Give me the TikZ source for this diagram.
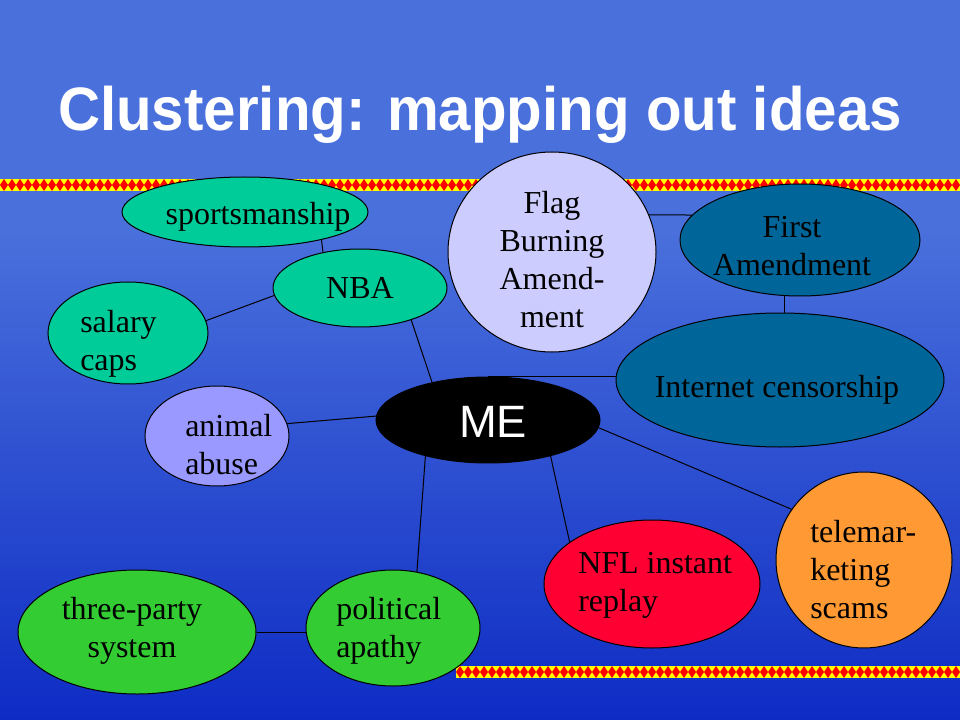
\documentclass[tikz,border=0pt]{standalone}
\usepackage{fontspec}
\setmainfont{Liberation Serif}
\newfontfamily\titlefont{Liberation Sans}[FakeStretch=0.95]
\newfontfamily\mefont{Liberation Sans}
\usetikzlibrary{shapes.geometric}
\definecolor{bgtop}{RGB}{74,112,220}
\definecolor{bgbot}{RGB}{14,44,196}
\definecolor{seagr}{RGB}{0,204,153}
\definecolor{lilac}{RGB}{204,204,255}
\definecolor{violet}{RGB}{153,153,255}
\definecolor{tealb}{RGB}{0,102,153}
\definecolor{orng}{RGB}{255,153,51}
\definecolor{redb}{RGB}{255,0,51}
\definecolor{grn}{RGB}{51,204,51}
\definecolor{bandred}{RGB}{255,0,0}
\definecolor{bandyel}{RGB}{255,255,0}
\begin{document}
\begin{tikzpicture}[x=0.75pt,y=-0.75pt,
  bub/.style={ellipse,draw=black,line width=0.75pt,inner sep=0pt},
  lbl/.style={font=\fontsize{24}{28.5}\selectfont,inner sep=0pt,text=black},
  link/.style={draw=black,line width=0.75pt}]
\useasboundingbox (0,0) rectangle (960,720);
% background
\fill[bgtop] (0,0) rectangle (960,231);
\shade[top color=bgtop,bottom color=bgbot] (0,230) rectangle (960,720);
% decorative bands
\fill[bandyel] (0,179) rectangle (960,191);
\foreach \i in {0,...,120}
  \fill[bandred] ({\i*8},185) -- ++(4,-6) -- ++(4,6) -- ++(-4,6) -- cycle;
\fill[bandyel] (456,666) rectangle (960,678);
\begin{scope}
\clip (456,666) rectangle (960,678);
\foreach \i in {0,...,63}
  \fill[bandred] ({456+\i*8},672) -- ++(4,-6) -- ++(4,6) -- ++(-4,6) -- cycle;
\end{scope}
% title
\node[font=\titlefont\bfseries\fontsize{46}{52}\selectfont,text=white,anchor=base,inner sep=0pt] (title) at (480,131) {Clustering: mapping out ideas};
% bubbles
\node[bub,fill=seagr,minimum width=184.5pt,minimum height=52.5pt] (sports) at (245,212) {};
\node[bub,fill=seagr,minimum width=130.5pt,minimum height=58.5pt] (nba) at (360,288) {};
\node[bub,fill=seagr,minimum width=120pt,minimum height=76.5pt] (salary) at (128,333) {};
\node[bub,fill=violet,minimum width=108pt,minimum height=75pt] (animal) at (217,436) {};
\node[bub,fill=black,minimum width=168pt,minimum height=64.5pt] (me) at (488,420) {};
\node[bub,fill=lilac,minimum width=156pt,minimum height=150pt] (flag) at (552,252) {};
\node[bub,fill=tealb,minimum width=180pt,minimum height=84pt] (first) at (800,240) {};
\node[bub,fill=tealb,minimum width=246pt,minimum height=100.5pt] (inet) at (780,380) {};
\node[bub,fill=orng,minimum width=132pt,minimum height=132pt] (tele) at (864,560) {};
\node[bub,fill=redb,minimum width=162pt,minimum height=96pt] (nfl) at (652,584) {};
\node[bub,fill=grn,minimum width=130.5pt,minimum height=87pt] (pol) at (393,628) {};
\node[bub,fill=grn,minimum width=178.5pt,minimum height=93pt] (three) at (137,632) {};
% labels
\node[lbl,anchor=base] (sportsT) at (258,225) {sportsmanship};
\node[lbl,anchor=base] (nbaT) at (360,299) {NBA};
\node[lbl,anchor=west,align=left] (salaryT) at (80,344) {salary\\caps};
\node[lbl,anchor=west,align=left] (animalT) at (185,445) {animal\\abuse};
\node[font=\mefont\fontsize{34}{40}\selectfont,text=white,anchor=base,inner sep=0pt] (meT) at (493,437) {ME};
\node[lbl,align=center] (flagT) at (552,260) {Flag\\Burning\\Amend-\\ment};
\node[lbl,align=center] (firstT) at (792,246) {First\\Amendment};
\node[lbl,anchor=base] (inetT) at (777,397) {Internet censorship};
\node[lbl,anchor=west,align=left] (teleT) at (810,570) {telemar-\\keting\\scams};
\node[lbl,anchor=west,align=left] (nflT) at (578,585) {NFL instant\\replay};
\node[lbl,anchor=west,align=left] (polT) at (336,631) {political\\apathy};
\node[lbl,align=center] (threeT) at (132,631) {three-party\\system};
% connectors
\draw[link] (sports.-20) -- (nba.136);
\draw[link] (nba.185) -- (salary.9);
\draw[link] (nba.-32) -- (me.146);
\draw[link] (animal.10) -- (me.178);
\draw[link] (flag.21) -- (first.167);
\draw[link] (first.255) -- (first.255 |- inet.north);
\draw[link] (me.north) -- (me.north -| inet.west);
\draw[link] (me.-4) -- (tele.145);
\draw[link] (me.-30) -- (nfl.153);
\draw[link] (me.210) -- (pol.67);
\draw[link] (three.east) -- (three.east -| pol.west);
\end{tikzpicture}
\end{document}
